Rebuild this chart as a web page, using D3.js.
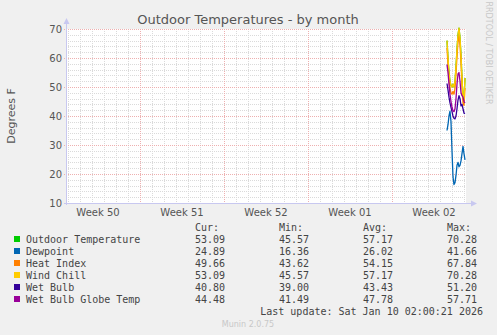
<!DOCTYPE html>
<html><head><meta charset="utf-8">
<script src="https://cdn.jsdelivr.net/npm/d3@7"></script>
<style>html,body{margin:0;padding:0;background:#f0f0f0}svg{display:block}</style>
</head><body>
<svg id="chart" width="497" height="335"></svg>
<script>
// ---- data ----
const titleText = "Outdoor Temperatures - by month";
const yLabel = "Degrees F";
const seriesNames = ["Outdoor Temperature","Dewpoint","Heat Index","Wind Chill","Wet Bulb","Wet Bulb Globe Temp"];
const seriesColors = ["#00CC00","#0066B3","#FF8000","#FFCC00","#330099","#990099"];
const sampleTimes = ["2026-01-08T14:00","2026-01-08T16:00","2026-01-08T18:00","2026-01-08T20:00","2026-01-08T22:00",
  "2026-01-09T00:00","2026-01-09T02:00","2026-01-09T04:00","2026-01-09T06:00","2026-01-09T08:00",
  "2026-01-09T10:00","2026-01-09T12:00","2026-01-09T14:00","2026-01-09T16:00","2026-01-09T18:00",
  "2026-01-09T20:00","2026-01-09T22:00","2026-01-10T00:00","2026-01-10T02:00"];
const outdoorTemp = [66,60,55,52,50.5,50,51,50,52,57,63,68,70.28,67,61,53,46.5,45.57,53.09];
const dewpoint    = [35,37,40,41.66,38,28,19,16.36,17,19.5,23,24,22.5,23,24.5,27,29.5,27,24.89];
const heatIndex   = [63.5,57.5,52.5,49.5,48,47.5,48.5,47.5,49.5,54.5,60.5,65.5,67.84,64.5,58.5,50.5,44.5,43.62,49.66];
const windChill   = [66,60,55,52,50.5,50,51,50,52,57,63,68,70.28,67,61,53,46.5,45.57,53.09];
const wetBulb     = [51.2,49,46.5,44.5,43,41.5,40,39.2,39,40,42.5,45.5,47,46,43.5,44,42.5,41,40.8];
const wetBulbGlobe= [57.71,55,51,47.5,45,43,41.8,41.49,42.5,46,51,54.5,55,52,48,47,46.5,45,44.48];
const curVals = ["53.09","24.89","49.66","53.09","40.80","44.48"];
const minVals = ["45.57","16.36","43.62","45.57","39.00","41.49"];
const avgVals = ["57.17","26.02","54.15","57.17","43.43","47.78"];
const maxVals = ["70.28","41.66","67.84","70.28","51.20","57.71"];
const yTicks = [10,20,30,40,50,60,70];
const weekLabels = ["Week 50","Week 51","Week 52","Week 01","Week 02"];
const weekStarts = ["2025-12-07T00:00","2025-12-14T00:00","2025-12-21T00:00","2025-12-28T00:00","2026-01-04T00:00"];
const lastUpdate = "Last update: Sat Jan 10 02:00:21 2026";
const footer = "Munin 2.0.75";
const sideText = "RRDTOOL / TOBI OETIKER";
const endTimeStr = "2026-01-10T02:00:21";

// ---- layout ----
const svg = d3.select("#chart");
const X0 = 66, X1 = 466, Y0 = 203, Y1 = 29;
const parse = d3.timeParse("%Y-%m-%dT%H:%M");
const parseS = d3.timeParse("%Y-%m-%dT%H:%M:%S");
const endT = parseS(endTimeStr);
const startT = new Date(+endT - 400/12*86400000);
const x = d3.scaleTime().domain([startT, endT]).range([X0-1, X1-1]);
const y = d3.scaleLinear().domain([10,70]).range([Y0, Y1]);

svg.append("rect").attr("x",X0).attr("y",Y1).attr("width",X1-X0).attr("height",Y0-Y1).attr("fill","#ffffff");

const grid = svg.append("g").attr("shape-rendering","crispEdges");
const minorC = "#dadada", majorC = "#eeb0b0";
// minor horizontal
d3.range(12,70,2).filter(v=>v%10!==0).forEach(v=>{
  grid.append("line").attr("x1",X0).attr("x2",X1).attr("y1",Math.round(y(v))+0.5).attr("y2",Math.round(y(v))+0.5)
    .attr("stroke",minorC).attr("stroke-dasharray","1,1");
});
// minor vertical (days)
d3.timeDay.range(startT, endT).forEach(d=>{
  const px = Math.round(x(d))+0.5;
  if (px < X0) return;
  grid.append("line").attr("x1",px).attr("x2",px).attr("y1",Y1).attr("y2",Y0)
    .attr("stroke",minorC).attr("stroke-dasharray","1,1");
});
// major horizontal
yTicks.forEach(v=>{
  if (v===10) return;
  const py = Math.round(y(v))+0.5;
  grid.append("line").attr("x1",X0-2).attr("x2",X1).attr("y1",py).attr("y2",py)
    .attr("stroke",majorC).attr("stroke-dasharray","1,1");
});
// major vertical (weeks)
weekStarts.map(s=>parse(s)).forEach(d=>{
  const px = Math.round(x(d))+0.5;
  if (px < X0 || px > X1) return;
  grid.append("line").attr("x1",px).attr("x2",px).attr("y1",Y1).attr("y2",Y0+2)
    .attr("stroke",majorC).attr("stroke-dasharray","1,1");
});

// axes
const axisC = "#c8c8f0";
svg.append("line").attr("x1",X0+0.5).attr("x2",X0+0.5).attr("y1",Y0+2).attr("y2",Y1-6).attr("stroke",axisC).attr("shape-rendering","crispEdges");
svg.append("line").attr("x1",X0-2).attr("x2",X1+6).attr("y1",Y0+0.5).attr("y2",Y0+0.5).attr("stroke",axisC).attr("shape-rendering","crispEdges");
svg.append("path").attr("d",`M${X0-2.5},${Y1-5} L${X0+0.5},${Y1-11} L${X0+3.5},${Y1-5} Z`).attr("fill",axisC);
svg.append("path").attr("d",`M${X1+5},${Y0-2.5} L${X1+11},${Y0+0.5} L${X1+5},${Y0+3.5} Z`).attr("fill",axisC);

// y tick labels
const lblC = "#555555";
svg.append("g").selectAll("text").data(yTicks).join("text")
  .attr("x",X0-4).attr("y",d=>y(d)+3.5).attr("text-anchor","end")
  .attr("font-family","DejaVu Sans").attr("font-size",10).attr("fill",lblC).text(d=>d);
// x week labels
svg.append("g").selectAll("text").data(weekStarts).join("text")
  .attr("x",(d)=>x(new Date(+parse(d)+3.5*86400000))).attr("y",216).attr("text-anchor","middle")
  .attr("font-family","DejaVu Sans").attr("font-size",10).attr("fill",lblC).text((d,i)=>weekLabels[i]);

// title & labels
svg.append("text").attr("x",248).attr("y",24).attr("text-anchor","middle")
  .attr("font-family","DejaVu Sans").attr("font-size",13).attr("fill","#555").text(titleText);
svg.append("text").attr("transform","translate(15,116) rotate(-90)").attr("text-anchor","middle")
  .attr("font-family","DejaVu Sans").attr("font-size",11).attr("fill","#555").text(yLabel);
svg.append("text").attr("transform","translate(486,53) rotate(90)").attr("text-anchor","middle")
  .attr("font-family","DejaVu Sans").attr("font-size",8).attr("fill","#c8c8c8").text(sideText);

// series
const times = sampleTimes.map(s=>parse(s));
const allSeries = [outdoorTemp, dewpoint, heatIndex, windChill, wetBulb, wetBulbGlobe];
const line = d3.line().x((d,i)=>x(times[i])).y(d=>y(d)).curve(d3.curveLinear);
const plot = svg.append("g");
allSeries.forEach((s,k)=>{
  plot.append("path").datum(s).attr("d",line).attr("fill","none")
    .attr("stroke",seriesColors[k]).attr("stroke-width",1.3).attr("stroke-linejoin","round");
});

// legend
const mono = "DejaVu Sans Mono";
const legC = "#444444";
const colX = [195,279,363,447];
const hdr = ["Cur:","Min:","Avg:","Max:"];
hdr.forEach((h,i)=>svg.append("text").attr("x",colX[i]).attr("y",231).attr("font-family",mono).attr("font-size",10).attr("fill",legC).text(h));
seriesNames.forEach((n,i)=>{
  const by = 243 + i*12;
  svg.append("rect").attr("x",14).attr("y",by-7).attr("width",6).attr("height",6).attr("fill",seriesColors[i]);
  svg.append("text").attr("x",26).attr("y",by).attr("font-family",mono).attr("font-size",10).attr("fill",legC).text(n);
  [curVals,minVals,avgVals,maxVals].forEach((arr,j)=>{
    svg.append("text").attr("x",colX[j]).attr("y",by).attr("font-family",mono).attr("font-size",10).attr("fill",legC).text(arr[i]);
  });
});
svg.append("text").attr("x",483).attr("y",315).attr("text-anchor","end").attr("font-family",mono).attr("font-size",10).attr("fill",legC).text(lastUpdate);
svg.append("text").attr("x",248).attr("y",327).attr("text-anchor","middle").attr("font-family","DejaVu Sans").attr("font-size",8).attr("fill","#c8c8c8").text(footer);
</script>
</body></html>
